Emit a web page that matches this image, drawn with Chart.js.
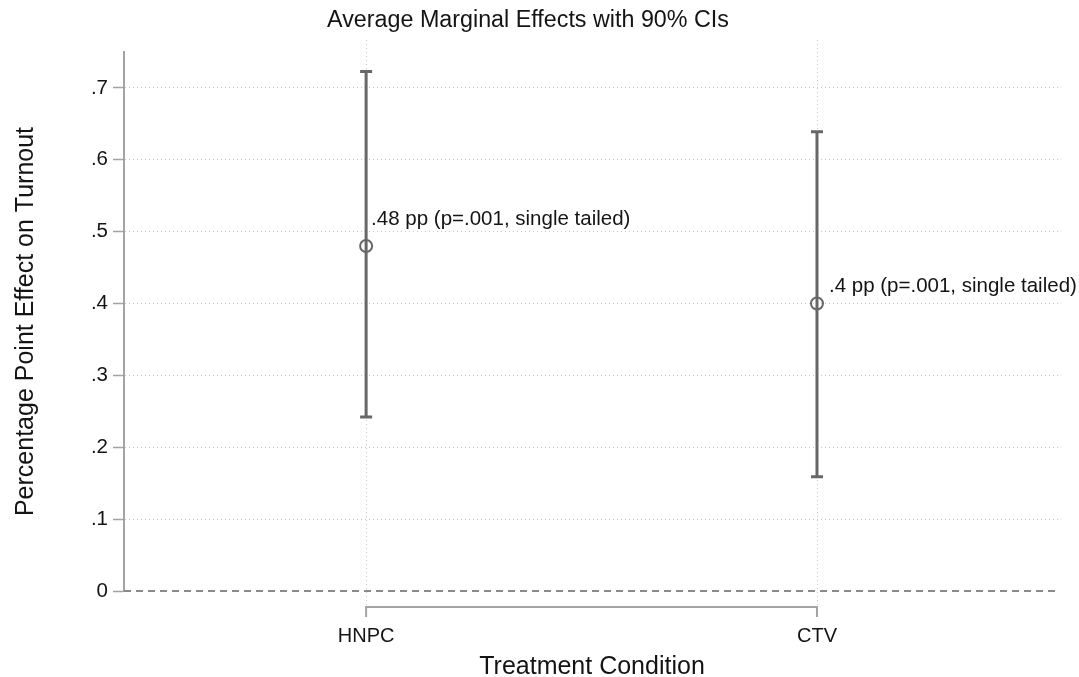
<!DOCTYPE html>
<html>
<head>
<meta charset="utf-8">
<title>Average Marginal Effects</title>
<script src="https://cdn.jsdelivr.net/npm/chart.js@4.4.0/dist/chart.umd.min.js"></script>
<style>
  html, body { margin: 0; padding: 0; background: #fff; }
  #wrap { width: 1079px; height: 677px; position: relative; }
</style>
</head>
<body>
<div id="wrap"><canvas id="amePlot"></canvas></div>
<script>
// --- data ---
const categories = ['HNPC', 'CTV'];
const estimates = [0.48, 0.4];
const ciLower = [0.242, 0.159];
const ciUpper = [0.723, 0.639];
const pValues = ['.001', '.001'];
const yTicks = [0, 0.1, 0.2, 0.3, 0.4, 0.5, 0.6, 0.7];
const yTickLabels = ['0', '.1', '.2', '.3', '.4', '.5', '.6', '.7'];

const FONT = '"Liberation Sans", Arial, sans-serif';
const INK = '#141414';
const BAR = '#676767';
const AXIS = '#a3a3a3';
const GRID = '#c8c8c8';

const fmt = v => String(v).replace(/^0\./, '.');

// vertical dotted lines, zero line and the CI whiskers
const backdrop = {
    id: 'backdrop',
    beforeDatasetsDraw(chart) {
        const { ctx, chartArea, scales: { x, y } } = chart;
        ctx.save();

        // dotted verticals at each category
        ctx.strokeStyle = GRID;
        ctx.lineWidth = 1;
        ctx.setLineDash([1, 3]);
        categories.forEach((c, i) => {
            const px = Math.round(x.getPixelForValue(i + 1)) + 0.5;
            ctx.beginPath();
            ctx.moveTo(px, chartArea.top - 12);
            ctx.lineTo(px, y.getPixelForValue(0) + 14);
            ctx.stroke();
        });

        // dashed reference line at zero
        const y0 = y.getPixelForValue(0);
        ctx.strokeStyle = '#8a8a8a';
        ctx.lineWidth = 2;
        ctx.setLineDash([7, 5]);
        ctx.beginPath();
        ctx.moveTo(chartArea.left, y0);
        ctx.lineTo(chartArea.right - 3, y0);
        ctx.stroke();

        // confidence intervals with caps
        ctx.setLineDash([]);
        ctx.strokeStyle = BAR;
        ctx.lineWidth = 3;
        categories.forEach((c, i) => {
            const px = x.getPixelForValue(i + 1);
            const top = y.getPixelForValue(ciUpper[i]);
            const bot = y.getPixelForValue(ciLower[i]);
            ctx.beginPath();
            ctx.moveTo(px, top);
            ctx.lineTo(px, bot);
            ctx.moveTo(px - 6, top);
            ctx.lineTo(px + 6, top);
            ctx.moveTo(px - 6, bot);
            ctx.lineTo(px + 6, bot);
            ctx.stroke();
        });
        ctx.restore();
    }
};

// point labels, title and the bracket-style x axis
const overlay = {
    id: 'overlay',
    afterDraw(chart, args, opts) {
        const { ctx, scales: { x, y } } = chart;
        ctx.save();

        ctx.fillStyle = INK;
        ctx.font = '20.5px ' + FONT;
        ctx.textAlign = 'left';
        ctx.textBaseline = 'middle';
        categories.forEach((c, i) => {
            const px = x.getPixelForValue(i + 1);
            const py = y.getPixelForValue(estimates[i]);
            const off = opts.labelOffsets[i];
            ctx.fillText(fmt(estimates[i]) + ' pp (p=' + pValues[i] + ', single tailed)', px + off.dx, py + off.dy);
        });

        ctx.font = '23.3px ' + FONT;
        ctx.textAlign = 'center';
        ctx.fillText(opts.title, opts.titleX, 21);

        // x axis line spanning the categories
        const ya = y.getPixelForValue(0) + 16;
        const xa = x.getPixelForValue(1);
        const xb = x.getPixelForValue(categories.length);
        ctx.strokeStyle = AXIS;
        ctx.lineWidth = 2;
        ctx.beginPath();
        ctx.moveTo(xa, ya + 10);
        ctx.lineTo(xa, ya);
        ctx.lineTo(xb, ya);
        ctx.lineTo(xb, ya + 10);
        ctx.stroke();
        ctx.restore();
    }
};

new Chart(document.getElementById('amePlot'), {
    type: 'scatter',
    data: {
        datasets: [{
            data: categories.map((c, i) => ({ x: i + 1, y: estimates[i] })),
            pointStyle: 'circle',
            pointRadius: 6,
            pointBorderWidth: 2,
            pointBorderColor: BAR,
            pointBackgroundColor: 'rgba(0,0,0,0)'
        }]
    },
    options: {
        responsive: true,
        maintainAspectRatio: false,
        animation: false,
        layout: { padding: { top: 52, right: 19, bottom: 0, left: 0 } },
        plugins: {
            legend: { display: false },
            tooltip: { enabled: false },
            overlay: {
                title: 'Average Marginal Effects with 90% CIs',
                titleX: 528,
                labelOffsets: [{ dx: 5, dy: -27 }, { dx: 12, dy: -17 }]
            }
        },
        scales: {
            x: {
                type: 'linear',
                min: 0.463,
                max: 2.539,
                afterBuildTicks: s => { s.ticks = categories.map((c, i) => ({ value: i + 1 })); },
                afterFit: s => { s.height = 86; },
                grid: { display: false },
                border: { display: false },
                ticks: {
                    padding: 25,
                    color: INK,
                    font: { family: FONT, size: 20 },
                    callback: v => categories[v - 1]
                },
                title: {
                    display: true,
                    text: 'Treatment Condition',
                    color: INK,
                    font: { family: FONT, size: 25, lineHeight: 0.8 },
                    padding: 0
                }
            },
            y: {
                min: 0,
                max: 0.75,
                afterBuildTicks: s => { s.ticks = yTicks.map(v => ({ value: v })); },
                afterFit: s => { s.width = 124; },
                grid: {
                    color: c => c.tick && c.tick.value === 0 ? 'rgba(0,0,0,0)' : GRID,
                    lineWidth: 1,
                    tickLength: 11,
                    tickColor: AXIS,
                    tickWidth: 1.5,
                    tickBorderDash: []
                },
                border: { display: true, color: AXIS, width: 2, dash: [1, 3] },
                ticks: {
                    padding: 5,
                    color: INK,
                    font: { family: FONT, size: 20.5 },
                    callback: (v, i) => yTickLabels[yTicks.indexOf(v)]
                },
                title: {
                    display: true,
                    text: 'Percentage Point Effect on Turnout',
                    color: INK,
                    font: { family: FONT, size: 25, lineHeight: 1 },
                    padding: { top: 14, bottom: 0 }
                }
            }
        }
    },
    plugins: [backdrop, overlay]
});
</script>
</body>
</html>
